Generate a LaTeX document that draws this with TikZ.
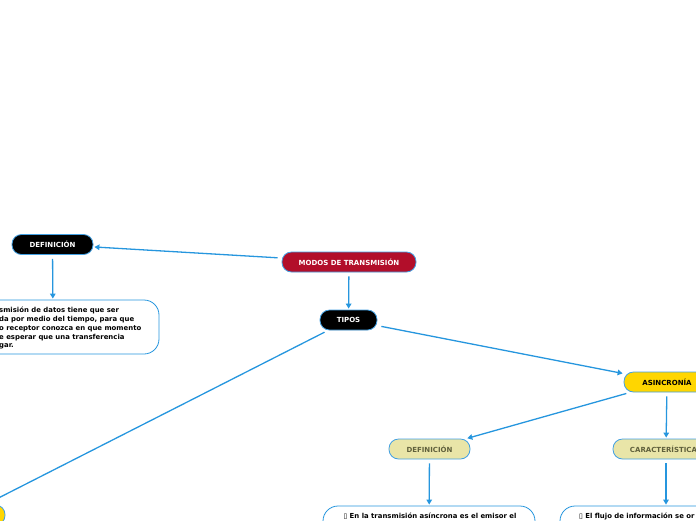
\documentclass[tikz,border=0pt]{standalone}
\usepackage{fontspec}
\setmainfont{DejaVu Sans}
\usetikzlibrary{arrows.meta, positioning}
\definecolor{linkblue}{RGB}{38,150,222}
\definecolor{edgeblue}{RGB}{66,160,226}
\definecolor{rootred}{RGB}{178,14,42}
\definecolor{mainyellow}{RGB}{255,214,0}
\definecolor{subkhaki}{RGB}{233,229,168}
\definecolor{subtext}{RGB}{96,96,60}

\begin{document}
\begin{tikzpicture}[
    x=1pt, y=-1pt,
    >={Triangle[length=5pt,width=5.5pt]},
    topic/.style={draw=edgeblue, line width=0.8pt, rounded corners=9.5pt, minimum height=20pt, inner sep=0pt, font=\fontsize{7}{8}\selectfont\bfseries},
    dark/.style={topic, fill=black, text=white},
    root/.style={topic, fill=rootred, text=white},
    main/.style={topic, fill=mainyellow, text=black},
    sub/.style={topic, fill=subkhaki, text=subtext},
    textbox/.style={draw=linkblue, line width=0.8pt, rounded corners=15pt, fill=white, minimum width=212pt, inner sep=0pt},
    body/.style={font=\fontsize{6.9}{8.8}\selectfont\bfseries, align=left, inner sep=0pt},
    link/.style={->, draw=linkblue, line width=1.3pt, shorten <=4pt, shorten >=1pt},
]
\useasboundingbox (0,0) rectangle (696,520);
% ----- main topic and its children
\node[root, minimum width=134pt] (modos) at (349,262) {MODOS DE TRANSMISIÓN};
\node[dark, minimum width=81pt] (defin) at (52.5,244.5) {DEFINICIÓN};
\node[textbox, minimum height=54pt] (definbox) at (53,327) {};
\node[body, anchor=north west] (defintext) at (-1,307) {smisión de datos tiene que ser\\da por medio del tiempo, para que\\o receptor conozca en que momento\\e esperar que una transferencia\\gar.};
\node[dark, minimum width=57pt] (tipos) at (348.5,320) {TIPOS};
% ----- the two kinds
\node[main, minimum width=86pt] (asinc) at (667,382) {ASINCRONÍA};
\node[main, minimum width=80pt] (sinc) at (-35,515) {};
% ----- asynchronous branch
\node[sub, minimum width=81pt] (asdefin) at (429.5,449) {DEFINICIÓN};
\node[sub, minimum width=106pt] (ascarac) at (666,449) {CARACTERÍSTICAS};
\node[textbox, minimum height=60pt] (asdefbox) at (429,536) {};
\node[body] (asdeftext) at (430,516) {▯ En la transmisión asíncrona es el emisor el};
\node[textbox, minimum height=60pt] (ascarbox) at (666,536) {};
\node[body, anchor=west] (ascartext) at (579,516) {▯ El flujo de información se or};
% ----- connectors
\draw[link] (modos) -- (defin);
\draw[link] (defin) -- (definbox);
\draw[link] (modos) -- (tipos);
\draw[link] (tipos) -- (asinc);
\draw[link] (tipos) -- (sinc);
\draw[link] (asinc) -- (asdefin);
\draw[link] (asinc) -- (ascarac);
\draw[link] (asdefin) -- (asdefbox);
\draw[link] (ascarac) -- (ascarbox);
\end{tikzpicture}
\end{document}
